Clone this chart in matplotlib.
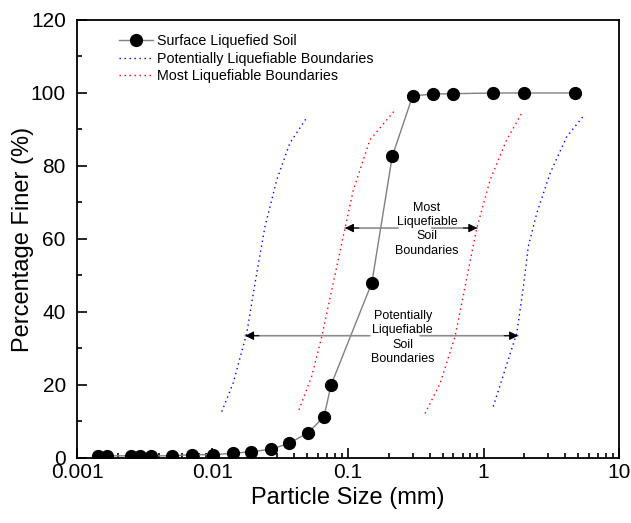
import matplotlib
matplotlib.use("Agg")
import matplotlib.pyplot as plt
from matplotlib.ticker import FixedLocator, NullFormatter, MultipleLocator

plt.rcParams["font.family"] = ["Liberation Sans", "DejaVu Sans"]

# Surface liquefied soil gradation (sieve + hydrometer)
soil_size = [0.00143, 0.00166, 0.00251, 0.00292, 0.00352, 0.00503, 0.00706,
             0.0101, 0.0142, 0.0192, 0.0270, 0.0367, 0.0507, 0.0665, 0.075,
             0.15, 0.212, 0.30, 0.425, 0.60, 1.18, 2.0, 4.75]
soil_finer = [0.6, 0.6, 0.6, 0.6, 0.6, 0.6, 0.9, 0.9, 1.3, 1.7, 2.4, 4.0,
              6.9, 11.3, 20.0, 48.0, 82.6, 99.2, 99.7, 99.8, 100, 100, 100]

# Potentially liquefiable boundaries
pot_left_size = [0.0117, 0.0142, 0.0179, 0.0206, 0.0244, 0.0298, 0.0373, 0.0501]
pot_left_finer = [12.7, 20.5, 34.2, 47.9, 63.4, 76.2, 86.3, 93.5]
pot_right_size = [1.18, 1.76, 1.97, 2.14, 2.47, 3.10, 4.11, 5.55]
pot_right_finer = [14.1, 34.2, 46.9, 57.9, 67.0, 78.0, 88.0, 94.0]

# Most liquefiable boundaries
most_left_size = [0.0435, 0.0539, 0.0640, 0.0951, 0.1095, 0.145, 0.222]
most_left_finer = [13.2, 22.3, 33.2, 63.0, 73.4, 87.1, 95.3]
most_right_size = [0.370, 0.477, 0.616, 0.891, 1.12, 1.48, 1.91]
most_right_finer = [12.2, 20.3, 33.2, 62.9, 76.2, 87.1, 94.4]

fig = plt.figure(figsize=(6.31, 5.23), dpi=100)
ax = fig.add_axes([0.122, 0.1243, 0.859, 0.8375])

ax.plot(soil_size, soil_finer, color="#808080", lw=1, marker="o",
        markersize=8.5, markerfacecolor="black", markeredgecolor="black",
        label="Surface Liquefied Soil", zorder=3)
dots = (0, (1, 2.6))
ax.plot(pot_left_size, pot_left_finer, color="blue", lw=1, linestyle=dots,
        label="Potentially Liquefiable Boundaries")
ax.plot(most_left_size, most_left_finer, color="red", lw=1, linestyle=dots,
        label="Most Liquefiable Boundaries")
ax.plot(pot_right_size, pot_right_finer, color="blue", lw=1, linestyle=dots)
ax.plot(most_right_size, most_right_finer, color="red", lw=1, linestyle=dots)


def boundary_arrow(tip, start, y):
    # gray shaft, black head
    ax.annotate("", xy=(tip, y), xytext=(start, y),
                arrowprops=dict(arrowstyle="-", color="#8c8c8c", lw=1.2,
                                shrinkA=0, shrinkB=0))
    off = 10 if tip < start else -10
    ax.annotate("", xy=(tip, y), xytext=(off, 0), textcoords="offset points",
                arrowprops=dict(arrowstyle="-|>", color="black", lw=0.8,
                                mutation_scale=13, shrinkA=0, shrinkB=0))


boundary_arrow(0.095, 0.234, 63)
boundary_arrow(0.90, 0.415, 63)
ax.text(0.382, 62.7, "Most\nLiquefiable\nSoil\nBoundaries", ha="center",
        va="center", fontsize=9, linespacing=1.25)

boundary_arrow(0.0174, 0.145, 33.5)
boundary_arrow(1.80, 0.34, 33.5)
ax.text(0.2535, 33, "Potentially\nLiquefiable\nSoil\nBoundaries", ha="center",
        va="center", fontsize=9, linespacing=1.25)

ax.set_xscale("log")
ax.set_xlim(0.001, 10)
ax.set_ylim(0, 120)
ax.xaxis.set_major_locator(FixedLocator([0.001, 0.01, 0.1, 1, 10]))
ax.set_xticklabels(["0.001", "0.01", "0.1", "1", "10"])
ax.xaxis.set_minor_formatter(NullFormatter())
ax.yaxis.set_major_locator(MultipleLocator(20))
ax.yaxis.set_minor_locator(MultipleLocator(10))

ax.tick_params(which="both", direction="in", top=False, right=False,
               labelsize=15, width=1.2)
ax.tick_params(axis="y", pad=8)
ax.tick_params(which="major", length=7)
ax.tick_params(which="minor", length=3.5)
for s in ax.spines.values():
    s.set_linewidth(1.3)

ax.set_xlabel("Particle Size (mm)", fontsize=17, labelpad=4)
ax.set_ylabel("Percentage Finer (%)", fontsize=17, labelpad=-2)

ax.legend(loc="upper left", bbox_to_anchor=(0.077, 0.968), frameon=False,
          fontsize=10.3, borderpad=0, borderaxespad=0, handlelength=2.4,
          handletextpad=0.3, labelspacing=0.25)

fig.savefig("out.png", dpi=100)
